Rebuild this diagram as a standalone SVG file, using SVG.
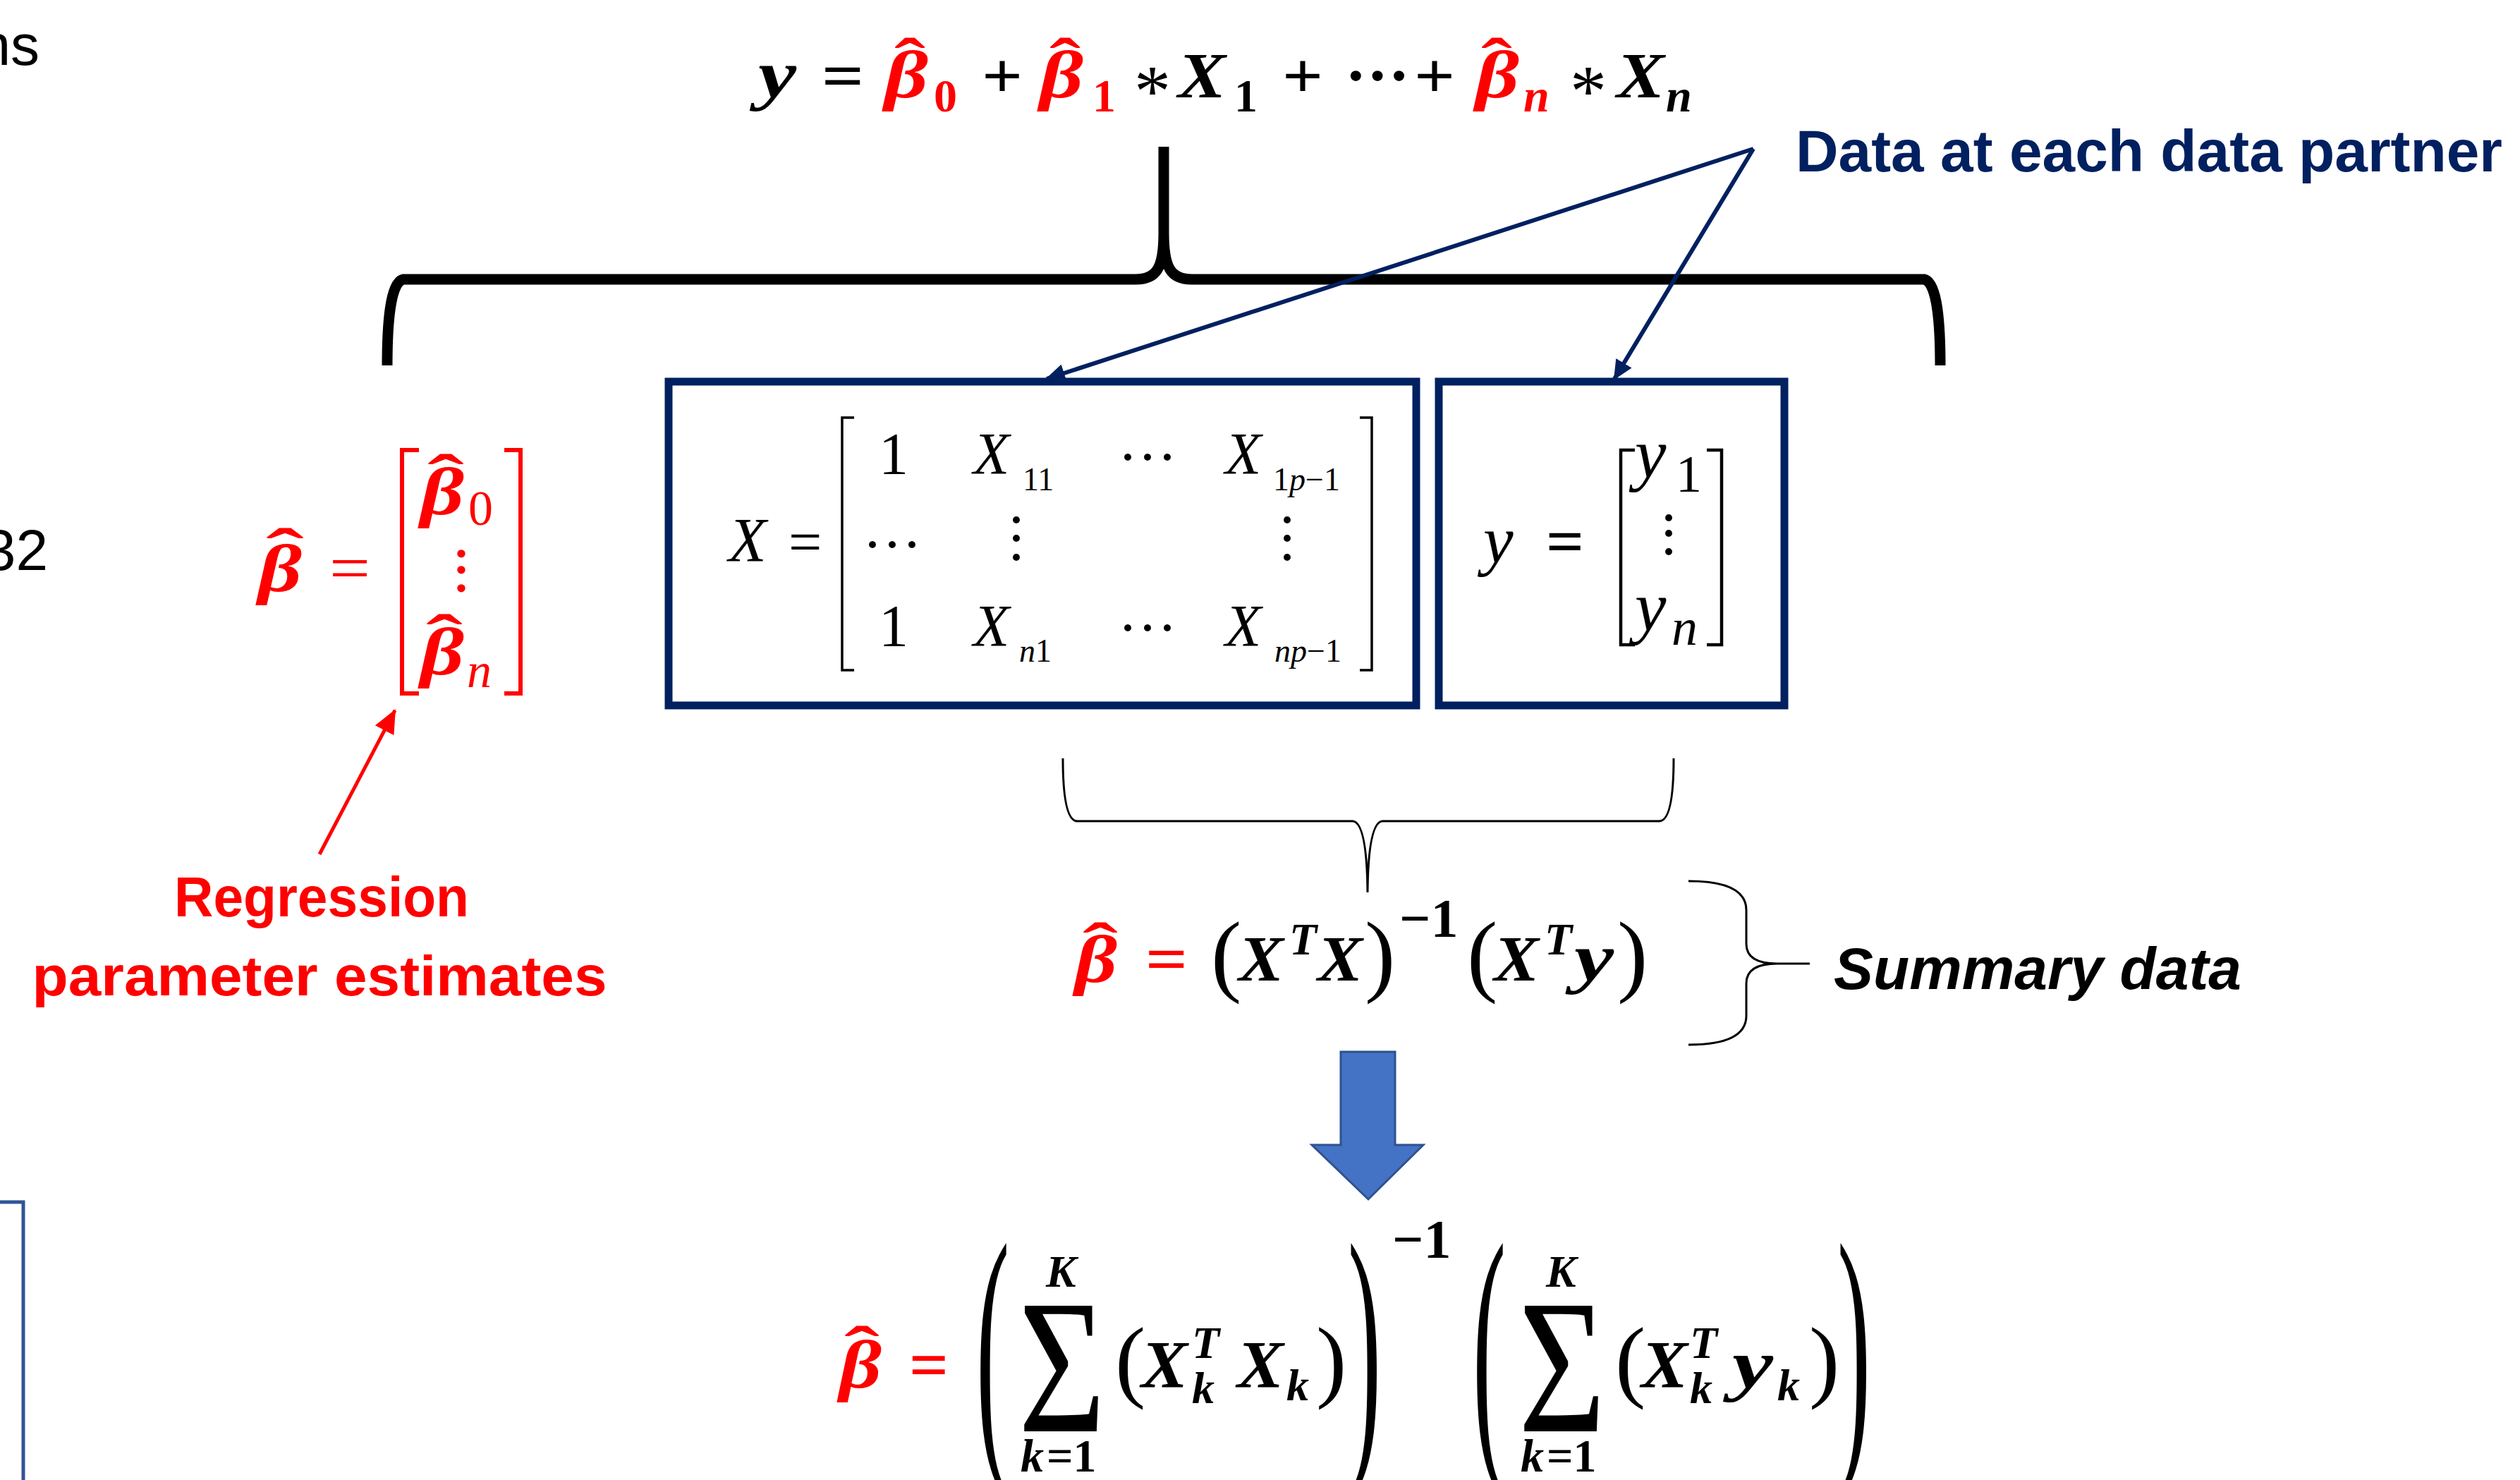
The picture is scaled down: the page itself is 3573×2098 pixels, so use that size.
<svg xmlns="http://www.w3.org/2000/svg" width="3573" height="2098" viewBox="0 0 3573 2098">
<style>
.m{font-family:"Liberation Serif","DejaVu Serif",serif}
.bi{font-weight:bold;font-style:italic}
.b{font-weight:bold}
.i{font-style:italic}
.red{fill:#FF0000}
.blk{fill:#000}
.navy{fill:#002060}
.s{font-family:"Liberation Sans","Open Sans",sans-serif}
.hat{font-family:"Liberation Serif",serif;font-weight:bold}
</style>
<defs>
<marker id="ah" markerUnits="userSpaceOnUse" markerWidth="30" markerHeight="26" refX="26" refY="13" orient="auto">
<path d="M0,0 L28,13 L0,26 Z" fill="#002060"/>
</marker>
<marker id="ahr" markerUnits="userSpaceOnUse" markerWidth="36" markerHeight="30" refX="32" refY="15" orient="auto">
<path d="M0,0 L34,15 L0,30 Z" fill="#FF0000"/>
</marker>
</defs>
<rect width="3573" height="2098" fill="#fff"/>

<g id="edge-text">
<text class="s" x="56" y="92" font-size="82" text-anchor="end">ns</text>
<text class="s" x="68" y="808" font-size="82" text-anchor="end">32</text>
</g>
<g id="edge-box">
<rect x="-20" y="1704" width="53" height="420" fill="none" stroke="#2F5597" stroke-width="5"/>
</g>

<g id="top-equation" class="m">
<text class="bi blk" x="1075" y="138" font-size="96" textLength="54" lengthAdjust="spacingAndGlyphs">y</text>
<text class="b blk" x="1165" y="138" font-size="92" textLength="60" lengthAdjust="spacingAndGlyphs">=</text>
<text class="bi red" x="1254" y="138" font-size="96" textLength="62" lengthAdjust="spacingAndGlyphs">β</text>
<text class="hat red" x="1290" y="118" font-size="92" text-anchor="middle" textLength="44" lengthAdjust="spacingAndGlyphs">ˆ</text>
<text class="b red" x="1324" y="158" font-size="66">0</text>
<text class="b blk" x="1392" y="138" font-size="92" textLength="58" lengthAdjust="spacingAndGlyphs">+</text>
<text class="bi red" x="1474" y="138" font-size="96" textLength="62" lengthAdjust="spacingAndGlyphs">β</text>
<text class="hat red" x="1510" y="118" font-size="92" text-anchor="middle" textLength="44" lengthAdjust="spacingAndGlyphs">ˆ</text>
<text class="b red" x="1549" y="158" font-size="66">1</text>
<text class="blk" x="1608" y="164" font-size="104">*</text>
<text class="bi blk" x="1670" y="138" font-size="92" textLength="68" lengthAdjust="spacingAndGlyphs">X</text>
<text class="b blk" x="1750" y="158" font-size="66">1</text>
<text class="b blk" x="1818" y="138" font-size="92" textLength="58" lengthAdjust="spacingAndGlyphs">+</text>
<text class="b blk" x="1907" y="138" font-size="92">···</text>
<text class="b blk" x="2005" y="138" font-size="92" textLength="58" lengthAdjust="spacingAndGlyphs">+</text>
<text class="bi red" x="2092" y="138" font-size="96" textLength="62" lengthAdjust="spacingAndGlyphs">β</text>
<text class="hat red" x="2122" y="118" font-size="92" text-anchor="middle" textLength="44" lengthAdjust="spacingAndGlyphs">ˆ</text>
<text class="bi red" x="2160" y="158" font-size="66">n</text>
<text class="blk" x="2226" y="164" font-size="104">*</text>
<text class="bi blk" x="2292" y="138" font-size="92" textLength="68" lengthAdjust="spacingAndGlyphs">X</text>
<text class="bi blk" x="2362" y="158" font-size="66">n</text>
</g>

<g id="top-brace">
<path d="M549,518 Q549,400 572,396 L1610,396 C1640,396 1650,380 1650,330 L1650,208 M1690,396 C1660,396 1650,380 1650,330 M1690,396 L2728,396 Q2751,400 2751,518" fill="none" stroke="#000" stroke-width="15"/>
</g>

<g id="data-label">
<text class="s b navy" x="2546" y="243" font-size="84" textLength="1002" lengthAdjust="spacingAndGlyphs">Data at each data partner</text>
</g>

<g id="matrix-box">
<rect x="948" y="541" width="1060" height="459" fill="none" stroke="#002060" stroke-width="11"/>
<g class="m blk">
<text class="i" x="1033" y="795" font-size="88">X</text>
<text x="1118" y="797" font-size="84">=</text>
<path d="M1211,592 L1194,592 L1194,950 L1211,950 M1928,592 L1945,592 L1945,950 L1928,950" fill="none" stroke="#000" stroke-width="3.5"/>
<text x="1246" y="672" font-size="84">1</text>
<text class="i" x="1380" y="672" font-size="84">X</text>
<text x="1450" y="695" font-size="46">11</text>
<text x="1585" y="676" font-size="84">···</text>
<text class="i" x="1737" y="672" font-size="84">X</text>
<text x="1805" y="695" font-size="46">1<tspan class="i">p</tspan>−1</text>
<text x="1223" y="800" font-size="84">···</text>
<text x="1441" y="741" font-size="84" text-anchor="middle">.</text>
<text x="1441" y="767" font-size="84" text-anchor="middle">.</text>
<text x="1441" y="794" font-size="84" text-anchor="middle">.</text>
<text x="1825" y="741" font-size="84" text-anchor="middle">.</text>
<text x="1825" y="767" font-size="84" text-anchor="middle">.</text>
<text x="1825" y="794" font-size="84" text-anchor="middle">.</text>
<text x="1246" y="916" font-size="84">1</text>
<text class="i" x="1380" y="916" font-size="84">X</text>
<text x="1445" y="938" font-size="46"><tspan class="i">n</tspan>1</text>
<text x="1585" y="918" font-size="84">···</text>
<text class="i" x="1737" y="916" font-size="84">X</text>
<text x="1807" y="938" font-size="46"><tspan class="i">np</tspan>−1</text>
</g>
</g>

<g id="y-box">
<rect x="2040" y="541" width="490" height="459" fill="none" stroke="#002060" stroke-width="11"/>
<g class="m blk">
<text class="i" x="2103" y="798" font-size="96">y</text>
<text class="b" x="2192" y="798" font-size="90" textLength="54" lengthAdjust="spacingAndGlyphs">=</text>
<path d="M2318,638 L2298,638 L2298,914 L2318,914 M2420,638 L2441,638 L2441,914 L2420,914" fill="none" stroke="#000" stroke-width="4.5"/>
<text class="i" x="2318" y="677" font-size="100">y</text>
<text x="2376" y="697" font-size="74">1</text>
<text x="2366" y="738" font-size="84" text-anchor="middle">.</text>
<text x="2366" y="760" font-size="84" text-anchor="middle">.</text>
<text x="2366" y="786" font-size="84" text-anchor="middle">.</text>
<text class="i" x="2318" y="894" font-size="100">y</text>
<text class="i" x="2370" y="914" font-size="74">n</text>
</g>
</g>

<g id="beta-vector" class="m">
<text class="hat red" x="404" y="813" font-size="90" text-anchor="middle" textLength="54" lengthAdjust="spacingAndGlyphs">ˆ</text>
<text class="bi red" x="366" y="838" font-size="96" textLength="62" lengthAdjust="spacingAndGlyphs">β</text>
<text class="red" x="467" y="836" font-size="90" textLength="58" lengthAdjust="spacingAndGlyphs">=</text>
<path d="M594,638 L570,638 L570,983 L594,983 M715,638 L738,638 L738,983 L715,983" fill="none" stroke="#FF0000" stroke-width="6"/>
<text class="hat red" x="632" y="708" font-size="90" text-anchor="middle" textLength="52" lengthAdjust="spacingAndGlyphs">ˆ</text>
<text class="bi red" x="596" y="729" font-size="96" textLength="62" lengthAdjust="spacingAndGlyphs">β</text>
<text class="red" x="664" y="744" font-size="70">0</text>
<text class="b red" x="654" y="790" font-size="70" text-anchor="middle">.</text>
<text class="b red" x="654" y="813" font-size="70" text-anchor="middle">.</text>
<text class="b red" x="654" y="839" font-size="70" text-anchor="middle">.</text>
<text class="hat red" x="630" y="935" font-size="90" text-anchor="middle" textLength="52" lengthAdjust="spacingAndGlyphs">ˆ</text>
<text class="bi red" x="596" y="956" font-size="96" textLength="62" lengthAdjust="spacingAndGlyphs">β</text>
<text class="i red" x="662" y="974" font-size="70">n</text>
</g>

<g id="regression-label">
<text class="s b red" x="456" y="1299" font-size="80" text-anchor="middle" textLength="418" lengthAdjust="spacingAndGlyphs">Regression</text>
<text class="s b red" x="453" y="1411" font-size="80" text-anchor="middle" textLength="815" lengthAdjust="spacingAndGlyphs">parameter estimates</text>
</g>

<g id="box-brace">
<path d="M1507,1075 Q1507,1163 1527,1164 L1918,1164 Q1938,1166 1939,1265 Q1940,1166 1960,1164 L2353,1164 Q2373,1163 2373,1075" fill="none" stroke="#000" stroke-width="3"/>
</g>

<g id="summary-formula" class="m">
<text class="hat red" x="1560" y="1372" font-size="92" text-anchor="middle" textLength="50" lengthAdjust="spacingAndGlyphs">ˆ</text>
<text class="bi red" x="1524" y="1392" font-size="96" textLength="60" lengthAdjust="spacingAndGlyphs">β</text>
<text class="b red" x="1624" y="1390" font-size="92" textLength="60" lengthAdjust="spacingAndGlyphs">=</text>
<text class="blk" x="1717" y="1396" font-size="130">(</text>
<text class="bi blk" x="1756" y="1390" font-size="92" textLength="64" lengthAdjust="spacingAndGlyphs">X</text>
<text class="bi blk" x="1828" y="1353" font-size="64">T</text>
<text class="bi blk" x="1868" y="1390" font-size="92" textLength="64" lengthAdjust="spacingAndGlyphs">X</text>
<text class="blk" x="1935" y="1396" font-size="130">)</text>
<text class="b blk" x="1984" y="1328" font-size="78">−1</text>
<text class="blk" x="2080" y="1396" font-size="130">(</text>
<text class="bi blk" x="2118" y="1390" font-size="92" textLength="64" lengthAdjust="spacingAndGlyphs">X</text>
<text class="bi blk" x="2190" y="1353" font-size="64">T</text>
<text class="bi blk" x="2232" y="1390" font-size="96" textLength="56" lengthAdjust="spacingAndGlyphs">y</text>
<text class="blk" x="2293" y="1396" font-size="130">)</text>
</g>

<g id="summary-brace">
<path d="M2394,1249 Q2476,1249 2476,1290 L2476,1338 Q2476,1366 2520,1366 L2566,1366 M2520,1366 Q2476,1366 2476,1394 L2476,1440 Q2476,1481 2394,1481" fill="none" stroke="#000" stroke-width="3"/>
</g>

<g id="summary-label">
<text class="s bi blk" x="2600" y="1402" font-size="84" textLength="578" lengthAdjust="spacingAndGlyphs">Summary data</text>
</g>

<g id="block-arrow">
<polygon points="1901,1491 1978,1491 1978,1623 2018,1623 1940,1700 1860,1623 1901,1623" fill="#4472C4" stroke="#2F528F" stroke-width="3"/>
</g>

<g id="final-formula" class="m">
<text class="hat red" x="1222" y="1944" font-size="92" text-anchor="middle" textLength="50" lengthAdjust="spacingAndGlyphs">ˆ</text>
<text class="bi red" x="1190" y="1967" font-size="98" textLength="60" lengthAdjust="spacingAndGlyphs">β</text>
<text class="b red" x="1289" y="1967" font-size="96" textLength="56" lengthAdjust="spacingAndGlyphs">=</text>
<text class="blk" transform="translate(1384,2043) scale(0.35,1)" x="0" y="0" font-size="405">(</text>
<text class="bi blk" x="1483" y="1824" font-size="64">K</text>
<text class="blk" transform="translate(1444,2029) scale(0.78,1)" x="0" y="0" font-size="272">Σ</text>
<text class="bi blk" x="1447" y="2086" font-size="66">k</text>
<text class="b blk" x="1484" y="2086" font-size="66">=1</text>
<text class="blk" x="1581" y="1971" font-size="130">(</text>
<text class="bi blk" x="1618" y="1967" font-size="96" textLength="66" lengthAdjust="spacingAndGlyphs">X</text>
<text class="bi blk" x="1690" y="1925" font-size="64">T</text>
<text class="bi blk" x="1690" y="1989" font-size="64">k</text>
<text class="bi blk" x="1754" y="1967" font-size="96" textLength="66" lengthAdjust="spacingAndGlyphs">X</text>
<text class="bi blk" x="1824" y="1985" font-size="64">k</text>
<text class="blk" x="1866" y="1971" font-size="130">)</text>
<text class="blk" transform="translate(1911,2043) scale(0.35,1)" x="0" y="0" font-size="405">)</text>
<text class="b blk" x="1974" y="1783" font-size="78">−1</text>
<text class="blk" transform="translate(2088,2043) scale(0.35,1)" x="0" y="0" font-size="405">(</text>
<text class="bi blk" x="2192" y="1824" font-size="64">K</text>
<text class="blk" transform="translate(2153,2029) scale(0.78,1)" x="0" y="0" font-size="272">Σ</text>
<text class="bi blk" x="2156" y="2086" font-size="66">k</text>
<text class="b blk" x="2193" y="2086" font-size="66">=1</text>
<text class="blk" x="2290" y="1971" font-size="130">(</text>
<text class="bi blk" x="2327" y="1967" font-size="96" textLength="66" lengthAdjust="spacingAndGlyphs">X</text>
<text class="bi blk" x="2396" y="1925" font-size="64">T</text>
<text class="bi blk" x="2396" y="1989" font-size="64">k</text>
<text class="bi blk" x="2456" y="1967" font-size="98" textLength="58" lengthAdjust="spacingAndGlyphs">y</text>
<text class="bi blk" x="2520" y="1985" font-size="64">k</text>
<text class="blk" x="2565" y="1971" font-size="130">)</text>
<text class="blk" transform="translate(2605,2043) scale(0.35,1)" x="0" y="0" font-size="405">)</text>
</g>

<g id="connectors">
<line x1="2486" y1="211" x2="1484" y2="537" stroke="#002060" stroke-width="6" marker-end="url(#ah)"/>
<line x1="2486" y1="211" x2="2289" y2="537" stroke="#002060" stroke-width="6" marker-end="url(#ah)"/>
<line x1="453" y1="1211" x2="560" y2="1007" stroke="#FF0000" stroke-width="5" marker-end="url(#ahr)"/>
</g>
</svg>
